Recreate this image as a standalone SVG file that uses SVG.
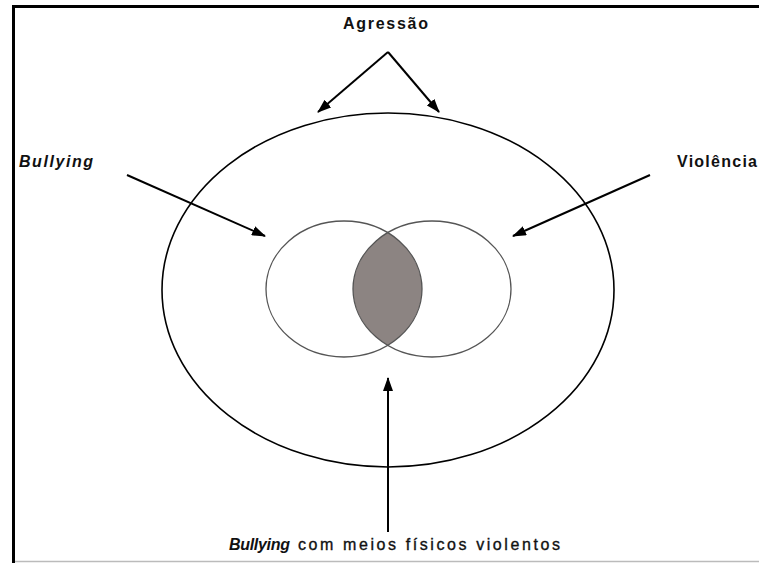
<svg xmlns="http://www.w3.org/2000/svg" width="759" height="563" viewBox="0 0 759 563">
  <defs>
    <marker id="ah" markerWidth="14" markerHeight="10" refX="13" refY="5" orient="auto" markerUnits="userSpaceOnUse">
      <path d="M0,0 L14,5 L0,10 Z" fill="#000"/>
    </marker>
    <clipPath id="clipL"><ellipse cx="344" cy="289" rx="78" ry="68"/></clipPath>
  </defs>
  <style>
    .lbl { font-family: "Liberation Sans", Arial, sans-serif; font-size: 16px; fill: #111; }
    .b { font-weight: bold; }
    .bi { font-weight: bold; font-style: italic; }
    .r { stroke: #111; stroke-width: 0.35; }
    .conn { stroke: #000; stroke-width: 2; fill: none; marker-end: url(#ah); }
    .inner { fill: none; stroke: #555; stroke-width: 1.3; }
  </style>
  <rect width="759" height="563" fill="#fff"/>
  <g id="frame">
    <line x1="13.5" y1="6.5" x2="759" y2="6.5" stroke="#000" stroke-width="3"/>
    <line x1="13.5" y1="5" x2="13.5" y2="563" stroke="#000" stroke-width="3"/>
    <line x1="15" y1="561.5" x2="759" y2="561.5" stroke="#bbb" stroke-width="1.5"/>
  </g>
  <g id="agressao">
    <ellipse cx="388" cy="290" rx="226" ry="177" fill="none" stroke="#000" stroke-width="1.6"/>
    <text class="lbl b" x="343" y="29" textLength="85" lengthAdjust="spacing">Agressão</text>
  </g>
  <g id="intersecao">
    <ellipse cx="432" cy="289" rx="79" ry="68" fill="#8c8482" clip-path="url(#clipL)"/>
  </g>
  <g id="bullying">
    <ellipse class="inner" cx="344" cy="289" rx="78" ry="68"/>
    <text class="lbl bi" x="19" y="167" textLength="74" lengthAdjust="spacing">Bullying</text>
  </g>
  <g id="violencia">
    <ellipse class="inner" cx="432" cy="289" rx="79" ry="68"/>
    <text class="lbl b" x="677" y="167" textLength="80" lengthAdjust="spacing">Violência</text>
  </g>
  <g id="bullying-fisico">
    <text class="lbl" x="229" y="550"><tspan class="bi" textLength="61" lengthAdjust="spacing">Bullying</tspan><tspan class="r" x="298" textLength="262" lengthAdjust="spacing">com meios físicos violentos</tspan></text>
  </g>
  <g id="connectors">
    <line class="conn" x1="388" y1="52" x2="318" y2="112"/>
    <line class="conn" x1="388" y1="52" x2="439" y2="112"/>
    <line class="conn" x1="127" y1="175" x2="265" y2="236"/>
    <line class="conn" x1="650" y1="175" x2="513" y2="236"/>
    <line class="conn" x1="388" y1="532" x2="388" y2="378"/>
  </g>
</svg>
